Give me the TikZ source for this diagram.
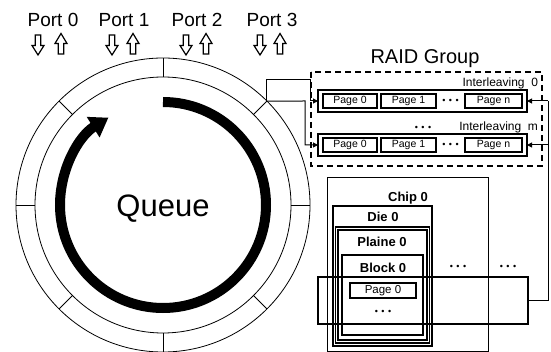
\documentclass[tikz,border=0pt]{standalone}
\usepackage{fontspec}
\setmainfont{Liberation Sans}
\usetikzlibrary{arrows.meta,calc}

\tikzset{
  every node/.style={inner sep=0pt, outer sep=0pt},
  portlabel/.style={font=\fontsize{19}{22}\selectfont, anchor=base},
  ring/.style={line width=0.8pt},
  queuearrow/.style={line width=10pt, -{Triangle[length=18pt,width=23pt]}},
  rowbox/.style={draw, line width=1.1pt, minimum width=209pt, minimum height=22pt},
  pagebox/.style={draw, line width=1.1pt, minimum height=14pt, font=\fontsize{10.5}{12}\selectfont},
  illabel/.style={font=\fontsize{12}{14}\selectfont, anchor=base east},
  dots/.style={font=\fontsize{9}{10}\selectfont},
  link/.style={line width=1pt, -{Triangle[length=5pt,width=5pt]}},
  bus/.style={line width=1pt},
  layerbox/.style={line width=1.2pt},
  layerlabel/.style={font=\bfseries\fontsize{13}{15}\selectfont},
  downarrow/.pic={\draw[line width=1.2pt, fill=white, line join=miter]
      (-2.8,-10) -- (2.8,-10) -- (2.8,0.5) -- (6,0.5) -- (0,10) -- (-6,0.5) -- (-2.8,0.5) -- cycle;},
  uparrow/.pic={\draw[line width=1.2pt, fill=white, line join=miter]
      (-2.8,10) -- (2.8,10) -- (2.8,-0.5) -- (6,-0.5) -- (0,-10.5) -- (-6,-0.5) -- (-2.8,-0.5) -- cycle;},
}

\newcommand{\threedots}{\textbullet\hspace{3.5pt}\textbullet\hspace{3.5pt}\textbullet}

\begin{document}
\begin{tikzpicture}[x=1pt, y=-1pt]
\useasboundingbox (0,0) rectangle (551,352);

% ports with their in/out arrows
\node[portlabel] (port0) at (53,27) {Port 0};
\node[portlabel] (port1) at (124,27) {Port 1};
\node[portlabel] (port2) at (197,27) {Port 2};
\node[portlabel] (port3) at (272,27) {Port 3};
\foreach \dx/\ux in {38/61, 112/133, 186/206, 260/280} {
  \pic at (\dx,45) {downarrow};
  \pic at (\ux,44) {uparrow};
}

% circular queue
\coordinate (c) at (163,205);
\draw[ring] (c) circle[radius=147pt];
\draw[ring] (c) circle[radius=128pt];
\foreach \a in {0,45,...,315}
  \draw[ring] ($(c)+(\a:128)$) -- ($(c)+(\a:147)$);
\draw[queuearrow] ($(c)+(-90:103)$) arc[start angle=-90, end angle=238, radius=103];
\node[font=\fontsize{31}{36}\selectfont, anchor=base] (queue) at (163,217) {Queue};
\coordinate (P) at ($(c)+(-45:147)$);

% RAID group
\node[font=\fontsize{20}{24}\selectfont, anchor=base] (raid) at (425,64) {RAID Group};
\draw[line width=1.4pt, dash pattern=on 6pt off 4pt] (311,72) rectangle (542,166);

\node[illabel] (il0) at (538,87) {Interleaving\ \ 0};
\node[rowbox] (row1) at (422.5,101) {};
\node[pagebox, minimum width=54pt] (r1p0) at (350,101) {Page 0};
\node[pagebox, minimum width=55pt] (r1p1) at (408.5,101) {Page 1};
\node[dots] (r1d) at (450.5,101) {\threedots};
\node[pagebox, minimum width=57pt] (r1pn) at (493.5,101) {Page n};

\node[dots] (rowdots) at (423,128) {\threedots};
\node[illabel] (ilm) at (538,131) {Interleaving\ \ m};
\node[rowbox] (row2) at (422.5,145) {};
\node[pagebox, minimum width=54pt] (r2p0) at (350,145) {Page 0};
\node[pagebox, minimum width=55pt] (r2p1) at (408.5,145) {Page 1};
\node[dots] (r2d) at (450.5,145) {\threedots};
\node[pagebox, minimum width=57pt] (r2pn) at (493.5,145) {Page n};

% links from the queue into the interleavings
\draw[link] (P) |- (310,80) |- (row1.west);
\draw[link] (P) -- (305,101) |- (row2.west);

% flash hierarchy
\draw[line width=1pt] (327,178) rectangle (488,351);
\node[layerlabel] (chip) at (408,198) {Chip 0};
\draw[layerbox] (333,206) rectangle (432,346);
\node[layerlabel] (die) at (383,217) {Die 0};
\draw[layerbox] (335.5,227) rectangle (429.5,343);
\draw[layerbox] (338,230) rectangle (427,340);
\node[layerlabel] (plane) at (382,242) {Plaine 0};
\draw[layerbox] (342,255) rectangle (423,335);
\node[layerlabel] (block) at (383,268) {Block 0};
\node[pagebox, minimum width=66pt, minimum height=15pt, font=\fontsize{11.5}{13}\selectfont] (bpage) at (383,290.5) {Page 0};
\node[dots] (bdots) at (383,312) {\threedots};
\node[dots] (cdots1) at (458,267) {\threedots};
\node[dots] (cdots2) at (508,267) {\threedots};

% selected page stripe and its return path
\node[draw, line width=2.4pt, minimum width=210pt, minimum height=47pt] (sel) at (423,300.5) {};
\draw[bus] (sel.east) -| (548,101);
\draw[link] (548,101) -- (row1.east);
\draw[link] (548,145) -- (row2.east);
\end{tikzpicture}
\end{document}
